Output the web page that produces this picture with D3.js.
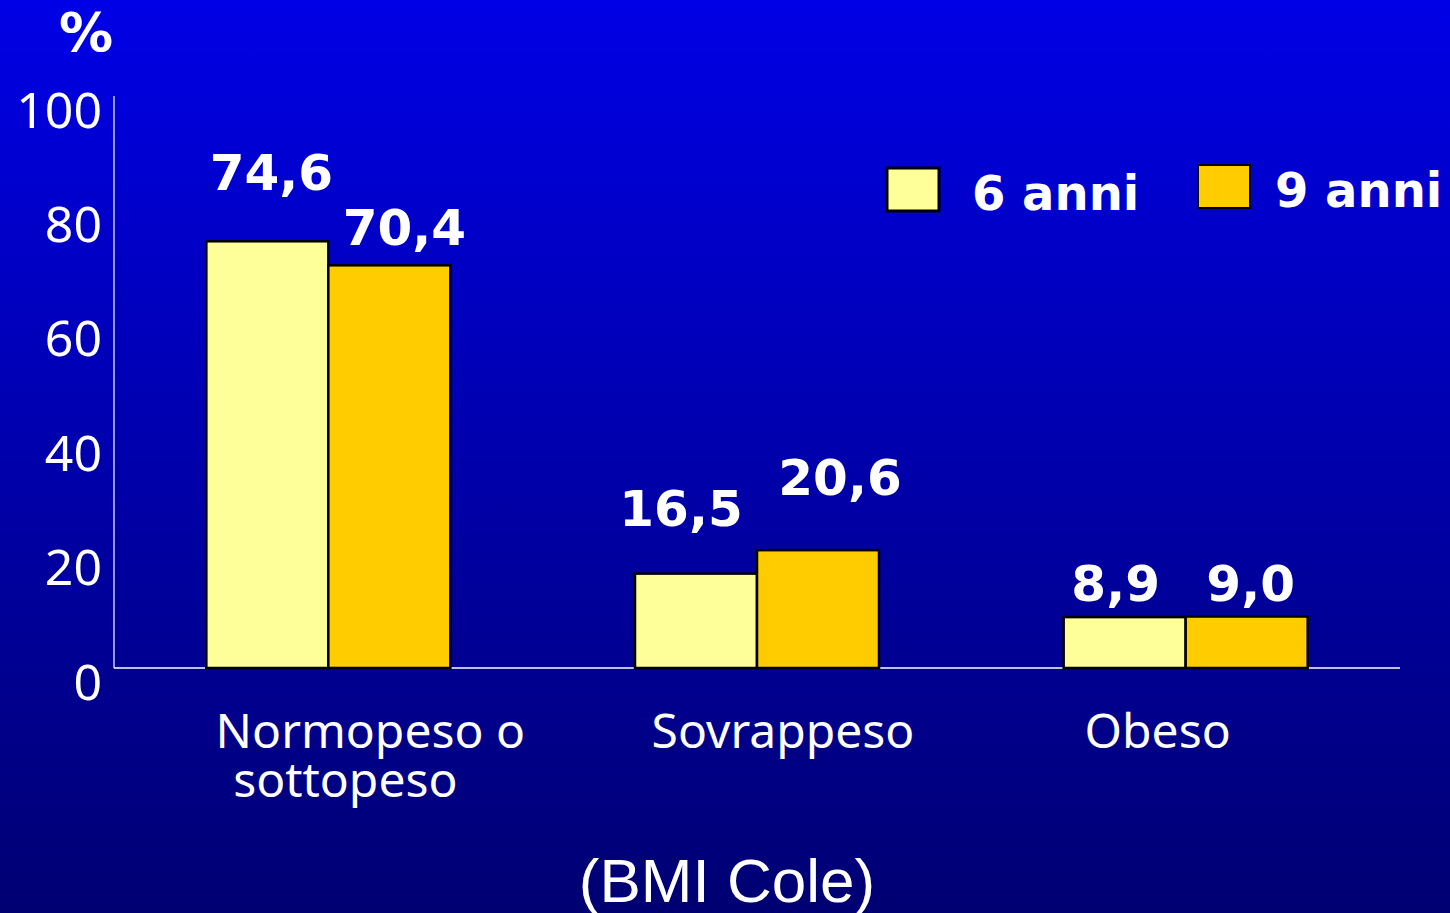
<!DOCTYPE html>
<html>
<head>
<meta charset="utf-8">
<script src="https://cdn.jsdelivr.net/npm/d3@7/dist/d3.min.js"></script>
<style>
  body { margin: 0; background: #000080; }
  svg { display: block; }
</style>
</head>
<body>
<svg id="chart"></svg>
<script>
// data
const categories = ['Normopeso o sottopeso', 'Sovrappeso', 'Obeso'];
const categoryLines = [['Normopeso o', 'sottopeso'], ['Sovrappeso'], ['Obeso']];
const seriesNames = ['6 anni', '9 anni'];
const values6 = [74.6, 16.5, 8.9];
const values9 = [70.4, 20.6, 9.0];
const yTicks = [0, 20, 40, 60, 80, 100];

// label nudges as on the slide (px)
const labelNudge = [
  [[4, -51], [15, -20]],
  [[-15, -48], [22, -55]],
  [[-9, -16], [4, -16]]
];
const catNudge = [[42, 17], [26], [-28]];

const width = 1450, height = 913;
const margin = { top: 96, right: 50, bottom: 245, left: 114 };
const colors = ['#ffff99', '#ffcc00'];

const svg = d3.select('#chart').attr('width', width).attr('height', height);

// background gradient
const defs = svg.append('defs');
const grad = defs.append('linearGradient').attr('id', 'bg')
  .attr('x1', 0).attr('y1', 0).attr('x2', 0).attr('y2', 1);
grad.append('stop').attr('offset', '0%').attr('stop-color', '#0000e6');
grad.append('stop').attr('offset', '100%').attr('stop-color', '#000072');
svg.append('rect').attr('width', width).attr('height', height).attr('fill', 'url(#bg)');

const x0 = d3.scaleBand()
  .domain(categories)
  .range([margin.left, width - margin.right])
  .padding(0);

const barW = 122;
const x1 = d3.scaleBand()
  .domain(seriesNames)
  .range([x0.bandwidth() / 2 - barW, x0.bandwidth() / 2 + barW])
  .padding(0);

const y = d3.scaleLinear()
  .domain([0, 100])
  .range([height - margin.bottom, margin.top]);

const rows = categories.map((c, i) => ({
  cat: c,
  i,
  vals: [values6[i], values9[i]]
}));

// y axis
const yAxis = svg.append('g')
  .attr('transform', `translate(${margin.left},0)`)
  .call(d3.axisLeft(y).tickValues(yTicks).tickSize(0).tickPadding(12).tickFormat(d3.format('d')));
yAxis.select('.domain').remove();
yAxis.selectAll('text')
  .attr('dy', 31)
  .attr('fill', '#ffffff')
  .style('font-family', '"Noto Sans", sans-serif')
  .style('font-size', '50px');

// axis lines
svg.append('line')
  .attr('x1', margin.left).attr('x2', margin.left)
  .attr('y1', y(100)).attr('y2', y(0))
  .attr('stroke', '#c8c8ff').attr('stroke-width', 1.5);
svg.append('line')
  .attr('x1', margin.left).attr('x2', x0.range()[1])
  .attr('y1', y(0)).attr('y2', y(0))
  .attr('stroke', '#ffffff').attr('stroke-width', 1.5);

// bars
const groups = svg.append('g').selectAll('g')
  .data(rows)
  .join('g')
  .attr('transform', d => `translate(${x0(d.cat)},0)`);

groups.selectAll('rect')
  .data(d => d.vals.map((v, s) => ({ v, s, i: d.i })))
  .join('rect')
  .attr('x', d => x1(seriesNames[d.s]))
  .attr('y', d => y(d.v))
  .attr('width', x1.bandwidth())
  .attr('height', d => y(0) - y(d.v))
  .attr('fill', d => colors[d.s])
  .attr('stroke', '#000000')
  .attr('stroke-width', 2.5);

const fmt = v => d3.format('.1f')(v).replace('.', ',');

groups.selectAll('text.val')
  .data(d => d.vals.map((v, s) => ({ v, s, i: d.i })))
  .join('text')
  .attr('class', 'val')
  .attr('x', d => x1(seriesNames[d.s]) + x1.bandwidth() / 2 + labelNudge[d.i][d.s][0])
  .attr('y', d => y(d.v) + labelNudge[d.i][d.s][1])
  .attr('text-anchor', 'middle')
  .attr('fill', '#ffffff')
  .style('font-family', '"DejaVu Sans", sans-serif')
  .style('font-weight', 'bold')
  .style('font-size', '50px')
  .text(d => fmt(d.v));

// category labels
groups.each(function (d) {
  const g = d3.select(this);
  categoryLines[d.i].forEach((line, k) => {
    g.append('text')
      .attr('x', x0.bandwidth() / 2 + catNudge[d.i][k])
      .attr('y', y(0) + 80 + k * 49)
      .attr('text-anchor', 'middle')
      .attr('fill', '#ffffff')
      .style('font-family', '"Noto Sans", sans-serif')
      .style('font-size', '48px')
      .text(line);
  });
});

// % unit
svg.append('text')
  .attr('x', 86).attr('y', 51)
  .attr('text-anchor', 'middle')
  .attr('fill', '#ffffff')
  .style('font-family', '"DejaVu Sans", sans-serif')
  .style('font-weight', 'bold')
  .style('font-size', '54px')
  .text('%');

// axis title
svg.append('text')
  .attr('x', 727).attr('y', 902)
  .attr('text-anchor', 'middle')
  .attr('fill', '#ffffff')
  .style('font-family', '"Liberation Sans", Arial, sans-serif')
  .style('font-size', '62px')
  .text('(BMI Cole)');

// legend
const legendPos = [[887, 168, 972, 210], [1198, 165, 1275, 207]];
const legend = svg.append('g').selectAll('g')
  .data(seriesNames)
  .join('g');
legend.append('rect')
  .attr('x', (d, i) => legendPos[i][0])
  .attr('y', (d, i) => legendPos[i][1])
  .attr('width', 52).attr('height', 43)
  .attr('fill', (d, i) => colors[i])
  .attr('stroke', '#000000')
  .attr('stroke-width', (d, i) => i === 0 ? 3 : 2);
legend.append('text')
  .attr('x', (d, i) => legendPos[i][2])
  .attr('y', (d, i) => legendPos[i][3])
  .attr('fill', '#ffffff')
  .style('font-family', '"DejaVu Sans", sans-serif')
  .style('font-weight', 'bold')
  .style('font-size', '48px')
  .text(d => d);
</script>
</body>
</html>
